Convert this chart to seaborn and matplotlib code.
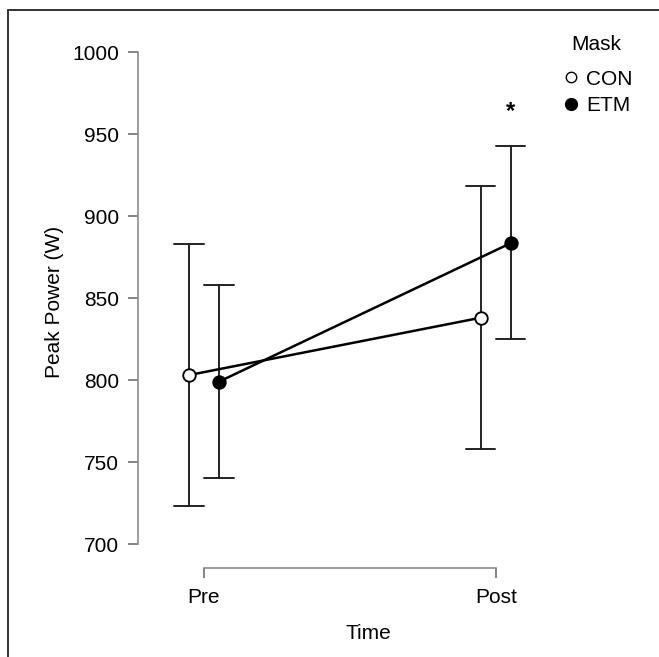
import matplotlib
matplotlib.use("Agg")
import matplotlib.pyplot as plt
import seaborn as sns
import pandas as pd
from matplotlib.lines import Line2D

# values (mean with lower / upper error bar ends)
times = ["Pre", "Post"]
masks = ["CON", "ETM"]
con_mean = [803, 838]
con_low = [723, 758]
con_high = [883, 918]
etm_mean = [799, 883.5]
etm_low = [740, 825]
etm_high = [858, 942.5]
star_y = 964

# long table: low / mean / high per cell -> median = mean, 100% interval = bar
rows = []
for mask, lo, mid, hi in [("CON", con_low, con_mean, con_high),
                          ("ETM", etm_low, etm_mean, etm_high)]:
    for i, t in enumerate(times):
        for v in (lo[i], mid[i], hi[i]):
            rows.append({"Time": t, "Mask": mask, "power": v})
df = pd.DataFrame(rows)

sns.set_style("white")
plt.rcParams["font.family"] = ["Liberation Sans", "DejaVu Sans"]
plt.rcParams["text.color"] = "black"
plt.rcParams["axes.labelcolor"] = "black"
plt.rcParams["xtick.color"] = "black"
plt.rcParams["ytick.color"] = "black"

fig = plt.figure(figsize=(6.59, 6.57), dpi=100)
ax = fig.add_axes([0.2094, 0.1355, 0.698, 0.8103])

dodge = 0.103
sns.pointplot(data=df, x="Time", y="power", hue="Mask", order=times,
              hue_order=masks, estimator="median", errorbar=("pi", 100),
              dodge=dodge, palette=["black", "black"], markers=["o", "o"],
              linestyles=["-", "-"], capsize=0.1, markersize=9,
              linewidth=1.8, err_kws={"linewidth": 1.4, "color": "#222222"},
              legend=False, ax=ax)

# open markers for CON, markers above the bars
marker_lines = [l for l in ax.lines if l.get_marker() == "o"]
marker_lines[0].set_markerfacecolor("white")
marker_lines[0].set_markeredgecolor("black")
for l in marker_lines:
    l.set_zorder(5)

ax.text(1 + dodge / 2, star_y, "*", ha="center", va="center",
        fontsize=17, fontweight="bold")

ax.set_ylim(685.4, 1010)
ax.set_xlim(-0.226, 1.35)
ax.set_yticks([700, 750, 800, 850, 900, 950, 1000])
ax.set_xlabel("Time", fontsize=15, labelpad=12)
ax.set_ylabel("Peak Power (W)", fontsize=15, labelpad=6)

sns.despine(ax=ax)
ax.spines["left"].set_bounds(700, 1000)
ax.spines["bottom"].set_bounds(0, 1)
for s in ("left", "bottom"):
    ax.spines[s].set_color("#8c8c8c")
    ax.spines[s].set_linewidth(1.2)
ax.tick_params(axis="both", which="major", direction="out", length=7.5,
               width=1.2, color="#6e6e6e", labelsize=15, pad=6,
               left=True, bottom=True)
ax.tick_params(axis="x", pad=7)

# legend: title as its own text, entries below
fig.text(0.9055, 1 - 45 / 657, "Mask", ha="center", va="center", fontsize=15)
handles = [Line2D([], [], marker="o", linestyle="none", markersize=7.5,
                  markerfacecolor="white", markeredgecolor="black"),
           Line2D([], [], marker="o", linestyle="none", markersize=8.5,
                  markerfacecolor="black", markeredgecolor="black")]
fig.legend(handles, masks, loc="upper left",
           bbox_to_anchor=(0.829, 1 - 55 / 657), frameon=False, fontsize=15,
           handletextpad=0.2, labelspacing=0.35, handlelength=1.0,
           borderpad=0.2)

# frame lines along top and left edges
fig.add_artist(Line2D([8 / 659, 1], [1 - 10 / 657, 1 - 10 / 657],
                      transform=fig.transFigure, color="#333333", lw=1.4))
fig.add_artist(Line2D([8 / 659, 8 / 659], [0, 1 - 10 / 657],
                      transform=fig.transFigure, color="#333333", lw=1.4))

fig.savefig("out.png", dpi=100, facecolor="white")
